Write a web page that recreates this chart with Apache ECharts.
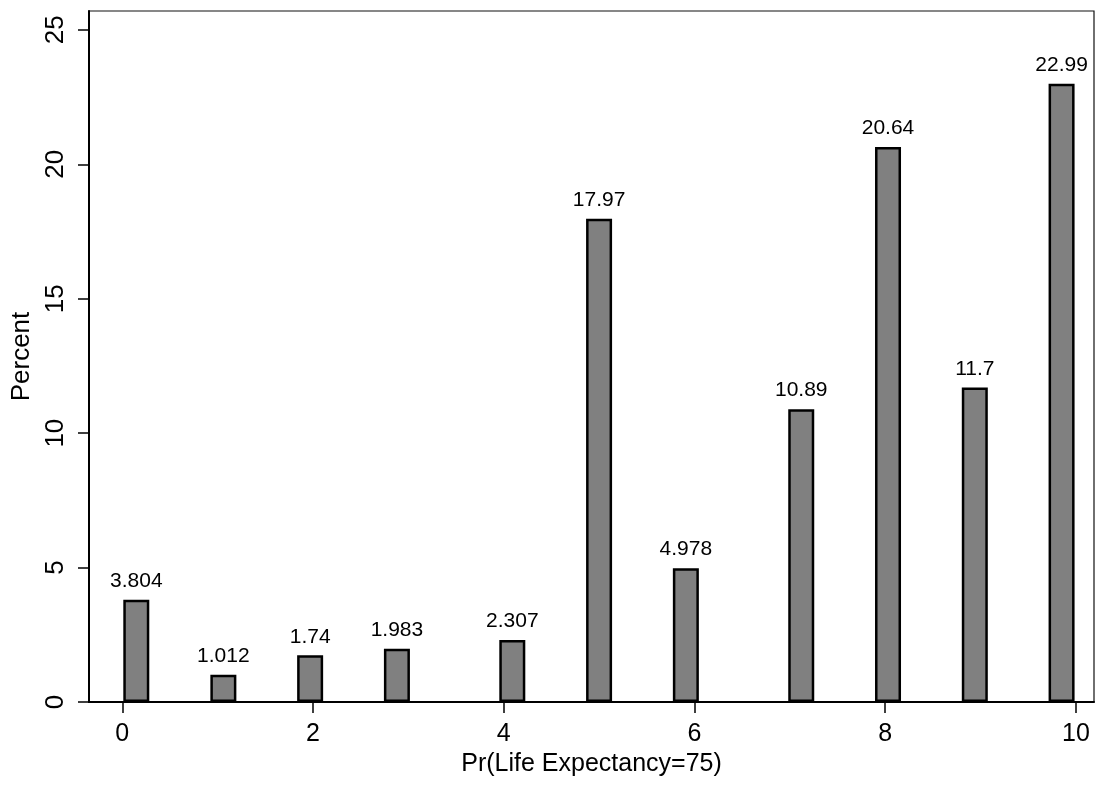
<!DOCTYPE html>
<html>
<head>
<meta charset="utf-8">
<script src="https://cdn.jsdelivr.net/npm/echarts@6/dist/echarts.min.js"></script>
<style>
html,body{margin:0;padding:0;background:#fff;}
#chart{width:1098px;height:786px;}
</style>
</head>
<body>
<div id="chart"></div>
<script>
// Histogram bars: bin centres (x) and percent values
const binCenters = [0.147, 1.06, 1.97, 2.88, 4.09, 5.0, 5.91, 7.12, 8.03, 8.94, 9.85];
const percents = [3.804, 1.012, 1.74, 1.983, 2.307, 17.97, 4.978, 10.89, 20.64, 11.7, 22.99];
const xTicks = [0, 2, 4, 6, 8, 10];
const yTicks = [0, 5, 10, 15, 20, 25];
const xTitle = 'Pr(Life Expectancy=75)';
const yTitle = 'Percent';

const FONT = '"Liberation Sans", Arial, Helvetica, sans-serif';
const chart = echarts.init(document.getElementById('chart'), null, {renderer: 'canvas'});
const data = binCenters.map((x, i) => [x, percents[i]]);

chart.setOption({
  backgroundColor: '#ffffff',
  animation: false,
  grid: {
    left: 89, top: 11, right: 4, bottom: 84,
    show: true, borderColor: '#111', borderWidth: 1.2, backgroundColor: 'transparent'
  },
  xAxis: {
    type: 'value',
    min: -0.349, max: 10.19,
    name: xTitle, nameLocation: 'middle', nameGap: 50,
    nameTextStyle: {fontFamily: FONT, fontSize: 25, color: '#000'},
    axisLine: {show: true, onZero: false, lineStyle: {color: '#000', width: 2}},
    axisTick: {show: true, length: 11, inside: false, customValues: xTicks, lineStyle: {color: '#000', width: 1.5}},
    axisLabel: {customValues: xTicks, fontFamily: FONT, fontSize: 25, color: '#000', margin: 20},
    splitLine: {show: false}
  },
  yAxis: {
    type: 'value',
    min: 0, max: 25.7,
    name: yTitle, nameLocation: 'middle', nameGap: 50, nameRotate: 90,
    nameTextStyle: {fontFamily: FONT, fontSize: 26, color: '#000'},
    axisLine: {show: true, onZero: false, lineStyle: {color: '#000', width: 2}},
    axisTick: {show: true, length: 11, inside: false, customValues: yTicks, lineStyle: {color: '#000', width: 1.5}},
    axisLabel: {customValues: yTicks, rotate: 90, fontFamily: FONT, fontSize: 26, color: '#000', margin: 20},
    splitLine: {show: false}
  },
  series: [{
    type: 'bar',
    data: data,
    barWidth: 26,
    itemStyle: {color: '#808080', borderColor: '#000', borderWidth: 2.5},
    label: {
      show: true, position: 'top', distance: 8,
      fontFamily: FONT, fontSize: 21, color: '#000',
      formatter: p => String(p.value[1])
    }
  }]
});
</script>
</body>
</html>
